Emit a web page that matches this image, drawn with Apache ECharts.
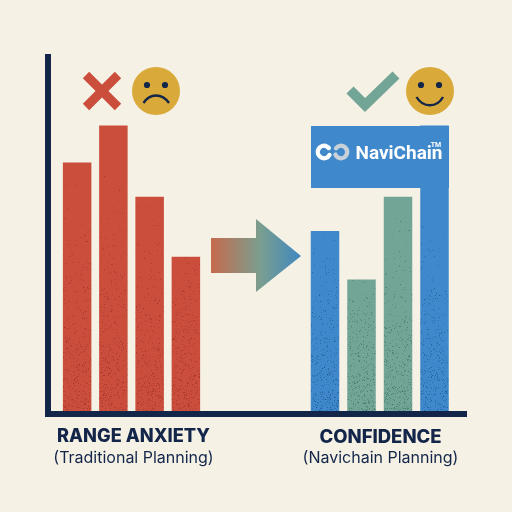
<!DOCTYPE html>
<html><head><meta charset="utf-8">
<style>html,body{margin:0;padding:0;background:#F5F1E5}#c{width:512px;height:512px}</style>
<script src="https://cdn.jsdelivr.net/npm/echarts@6/dist/echarts.min.js"></script>
</head><body><div id="c"></div>
<script>
const traditionalCategories = ['T1','T2','T3','T4'];
const traditionalValues = [87, 100, 75, 54];
const navichainCategories = ['N1','N2','N3','N4'];
const navichainValues = [63, 46, 75, 100];
const navichainKinds = ['blue','green','green','blue'];
const labelTitles = ['RANGE ANXIETY','CONFIDENCE'];
const labelSubtitles = ['(Traditional Planning)','(Navichain Planning)'];
const brandName = 'NaviChain';

const RED='#CB4E3C', BLUE='#3F88CB', GREEN='#73A596', NAVY='#13264A', GOLD='#D9A93A', BG='#F5F1E5';

// Speckled print texture, fixed seed, denser toward the baseline
function speckle(base, dark, startY){
  const cv=document.createElement('canvas'); cv.width=512; cv.height=512;
  const g=cv.getContext('2d'); g.fillStyle=base; g.fillRect(0,0,512,512);
  let s=0x9E3779B9;
  const r=()=>{s=(s+0x6D2B79F5)|0; let t=Math.imul(s^(s>>>15),1|s); t=(t+Math.imul(t^(t>>>7),61|t))^t; return ((t^(t>>>14))>>>0)/4294967296;};
  for(let i=0;i<140000;i++){
    const x=r()*512, y=startY+r()*(412-startY), p=(y-startY)/(412-startY);
    if(r()>p*p*0.16+0.006) continue;
    g.globalAlpha=0.12+r()*0.5; g.fillStyle=dark;
    g.fillRect(Math.floor(x),Math.floor(y),1,1);
  }
  return {image:cv,repeat:'no-repeat'};
}
const redFill=speckle(RED,'#8E2A1E',170);
const blueFill=speckle(BLUE,'#174E80',215);
const greenFill=speckle(GREEN,'#2F6556',215);

const gridTop=54, gridBottomPx=411, yMax=125;
const yBase={type:'value',min:0,max:yMax,show:false};

const txt=(x,y,text,font,weight,size,fill,align)=>({type:'text',silent:true,z:20,
  style:{x,y,text,fontFamily:font,fontWeight:weight,fontSize:size,fill,align:align||'center',verticalAlign:'middle'}});
const face=(cx,mouth)=>({type:'group',silent:true,z:20,children:[
  {type:'circle',shape:{cx,cy:91,r:24},style:{fill:GOLD}},
  {type:'circle',shape:{cx:cx-9,cy:85,r:3.1},style:{fill:NAVY}},
  {type:'circle',shape:{cx:cx+9,cy:85,r:3.1},style:{fill:NAVY}},
  {type:'bezierCurve',shape:mouth,style:{fill:'none',stroke:NAVY,lineWidth:2.4}}
]});

const option={
  animation:false,
  backgroundColor:BG,
  grid:[
    {left:59,width:145,top:gridTop,height:gridBottomPx-gridTop},
    {left:306.75,width:146,top:gridTop,height:gridBottomPx-gridTop},
    {left:45,width:422,top:gridTop,height:414-gridTop}
  ],
  xAxis:[
    {type:'category',gridIndex:0,data:traditionalCategories,show:false},
    {type:'category',gridIndex:1,data:navichainCategories,show:false},
    {type:'category',gridIndex:2,data:[],axisLine:{show:true,lineStyle:{color:NAVY,width:6,cap:'butt'}},axisTick:{show:false},axisLabel:{show:false}}
  ],
  yAxis:[
    {type:'value',gridIndex:0,min:0,max:yMax,offset:11,splitLine:{show:false},axisTick:{show:false},axisLabel:{show:false},
     axisLine:{show:true,lineStyle:{color:NAVY,width:6,cap:'butt'}}},
    Object.assign({gridIndex:1},yBase),
    Object.assign({gridIndex:2},yBase)
  ],
  series:[
    {type:'bar',xAxisIndex:0,yAxisIndex:0,barWidth:28.5,data:traditionalValues,itemStyle:{color:redFill},z:5},
    {type:'bar',xAxisIndex:1,yAxisIndex:1,barWidth:28.5,z:5,
     data:navichainValues.map((v,i)=>({value:v,itemStyle:{color:navichainKinds[i]==='blue'?blueFill:greenFill}}))}
  ],
  graphic:{elements:[
    // Cross
    {type:'group',silent:true,z:20,children:[
      {type:'line',shape:{x1:86,y1:75,x2:118,y2:107},style:{stroke:RED,lineWidth:9}},
      {type:'line',shape:{x1:118,y1:75,x2:86,y2:107},style:{stroke:RED,lineWidth:9}}
    ]},
    face(156,{x1:143.5,y1:103,cpx1:150,cpy1:93,cpx2:162,cpy2:93,x2:169,y2:103}),
    // Check
    {type:'polyline',silent:true,z:20,shape:{points:[[350,90],[365,105],[396,75]]},style:{fill:'none',stroke:GREEN,lineWidth:10,lineJoin:'miter'}},
    face(430,{x1:416.5,y1:97,cpx1:423,cpy1:108,cpx2:437,cpy2:108,x2:443,y2:97}),
    // Logo block
    {type:'rect',silent:true,z:4,shape:{x:311,y:126,width:138,height:62},style:{fill:BLUE}},
    {type:'arc',silent:true,z:20,shape:{cx:324,cy:152,r:6.2,startAngle:0.5,endAngle:-0.7,clockwise:true},style:{fill:'none',stroke:'#FFFFFF',lineWidth:4.4,lineCap:'round'}},
    {type:'arc',silent:true,z:20,shape:{cx:341,cy:152,r:6.2,startAngle:-2.5,endAngle:2.7,clockwise:true},style:{fill:'none',stroke:'#C9D1D8',lineWidth:4.4,lineCap:'round'}},
    txt(355.5,154.5,brandName,'Roboto',700,19,'#FFFFFF','left'),
    txt(436,145,'TM','Roboto',700,7,'#FFFFFF'),
    // Arrow
    {type:'polygon',silent:true,z:20,shape:{points:[[211,238],[256,238],[256,219],[301,256],[256,292],[256,273],[211,273]]},
     style:{fill:new echarts.graphic.LinearGradient(0,0,1,0,[{offset:0,color:'#C56B4D'},{offset:0.55,color:'#7A9E90'},{offset:1,color:'#3F88C0'}])}},
    // Labels
    txt(133.5,437,labelTitles[0],'Inter',800,18.2,NAVY),
    txt(133.5,458,labelSubtitles[0],'Inter',400,16,NAVY),
    txt(380.5,437,labelTitles[1],'Inter',800,18.5,NAVY),
    txt(380.5,458,labelSubtitles[1],'Inter',400,16,NAVY)
  ]}
};
echarts.init(document.getElementById('c'),null,{renderer:'canvas'}).setOption(option);
</script></body></html>
